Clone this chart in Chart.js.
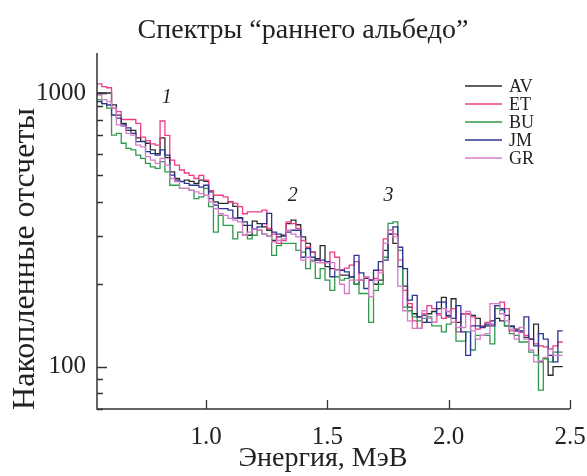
<!DOCTYPE html>
<html>
<head>
<meta charset="utf-8">
<script src="https://cdn.jsdelivr.net/npm/chart.js@4.4.1/dist/chart.umd.min.js"></script>
<style>
  html, body { margin: 0; padding: 0; background: #fff; }
  #wrap { width: 587px; height: 476px; }
</style>
</head>
<body>
<div id="wrap"><canvas id="spectra" width="587" height="476"></canvas></div>
<script>
// ---- data: counts per 0.02 MeV bin, bins from 0.55 to 2.47 MeV
const binStart = 0.55;
const binWidth = 0.02;

const seriesNames = ["AV", "ET", "BU", "JM", "GR"];
const seriesColors = ["#2b2b2b", "#ee3d86", "#2f9a4c", "#2d3592", "#d47cc6"];

const countsAV = [1000, 1000, 1000, 905, 830, 775, 730, 730, 685, 665, 655, 620, 600, 685, 580, 515, 487, 475, 480, 475, 467, 480, 475, 435, 400, 395, 395, 400, 385, 350, 328, 302, 340,
  333, 324, 315, 289, 298, 302, 333, 343, 330, 298, 282, 262, 248, 277, 232, 228, 225, 216, 216, 213, 200, 207, 210, 207, 200, 207, 266, 305, 282, 232, 197, 165, 156, 152,
  145, 156, 159, 163, 179, 152, 177, 145, 156, 156, 154, 150, 140, 141, 147, 150, 147, 141, 140, 137, 134, 128, 126, 143, 104, 107, 93, 100, 100];
const countsET = [1080, 1055, 1045, 880, 855, 800, 800, 800, 775, 690, 670, 652, 645, 790, 700, 568, 545, 523, 510, 500, 487, 500, 480, 440, 423, 423, 417, 400, 395, 384, 362, 368, 368,
  368, 373, 320, 305, 282, 289, 338, 333, 320, 289, 273, 262, 245, 240, 240, 262, 251, 225, 229, 235, 242, 207, 213, 207, 210, 225, 293, 315, 305, 245, 190, 170, 147, 138,
  156, 167, 163, 156, 150, 159, 163, 134, 156, 156, 152, 137, 141, 145, 143, 167, 172, 163, 135, 135, 134, 130, 126, 121, 119, 118, 116, 119, 123];
const countsBU = [943, 915, 880, 702, 712, 655, 627, 620, 593, 577, 553, 537, 530, 561, 515, 460, 460, 448, 448, 441, 411, 417, 448, 384, 310, 357, 328, 328, 293, 310, 302, 293, 302,
  315, 305, 300, 255, 277, 282, 282, 282, 266, 262, 228, 245, 210, 228, 207, 190, 213, 207, 210, 213, 200, 185, 185, 145, 190, 200, 251, 334, 338, 266, 165, 160, 152, 147,
  150, 152, 141, 141, 134, 143, 145, 124, 124, 134, 115, 130, 130, 130, 121, 163, 161, 141, 132, 130, 123, 123, 113, 110, 82, 107, 104, 113, 113];
const countsJM = [930, 915, 904, 831, 810, 764, 745, 712, 664, 664, 610, 600, 593, 620, 593, 501, 480, 474, 467, 460, 460, 453, 460, 411, 389, 378, 378, 373, 349, 349, 338, 328, 318,
  324, 333, 363, 310, 305, 300, 310, 315, 315, 251, 270, 251, 245, 245, 242, 213, 225, 225, 222, 213, 255, 220, 193, 207, 225, 242, 245, 305, 324, 273, 228, 175, 182, 152,
  154, 145, 145, 172, 172, 154, 150, 167, 134, 110, 141, 141, 139, 143, 141, 167, 163, 154, 141, 135, 135, 152, 126, 119, 132, 126, 110, 104, 135];
const countsGR = [983, 945, 930, 880, 764, 755, 712, 702, 645, 635, 585, 568, 553, 577, 545, 487, 474, 448, 448, 441, 435, 429, 423, 400, 378, 362, 357, 348, 343, 338, 302, 310, 318,
  315, 305, 300, 286, 289, 293, 315, 305, 298, 245, 251, 242, 240, 240, 240, 240, 225, 200, 185, 207, 207, 207, 213, 180, 207, 220, 282, 315, 298, 197, 160, 147, 138, 138,
  160, 150, 145, 154, 163, 159, 145, 139, 139, 159, 135, 126, 130, 132, 170, 170, 156, 147, 137, 126, 139, 126, 115, 104, 105, 108, 116, 110, 110];

const xTicks = [1.0, 1.5, 2.0, 2.5];
const yMajor = [100, 1000];
const yMinor = [70, 80, 90, 200, 300, 400, 500, 600, 700, 800, 900];

// peak marks: label, energy, counts
const peakLabels = ["1", "2", "3"];
const peakEnergy = [0.838, 1.357, 1.752];
const peakCounts = [958, 420, 420];

const allCounts = [countsAV, countsET, countsBU, countsJM, countsGR];

function toSteps(counts) {
  const pts = counts.map((c, i) => ({ x: binStart + i * binWidth, y: c }));
  pts.push({ x: binStart + counts.length * binWidth, y: counts[counts.length - 1] });
  return pts;
}

const serif = "'Liberation Serif', 'DejaVu Serif', serif";

// axes, inward ticks, legend, titles, peak numbers
const decorations = {
  id: 'decorations',
  afterDraw(chart) {
    const { ctx, chartArea: a, scales: { x, y } } = chart;
    ctx.save();
    ctx.strokeStyle = '#333';
    ctx.lineWidth = 1.5;
    ctx.beginPath();
    ctx.moveTo(a.left, a.top);
    ctx.lineTo(a.left, a.bottom);
    ctx.lineTo(a.right, a.bottom);
    ctx.stroke();

    ctx.lineWidth = 1.3;
    ctx.beginPath();
    x.ticks.forEach(t => {
      const px = Math.round(x.getPixelForValue(t.value)) + 0.5;
      ctx.moveTo(px, a.bottom);
      ctx.lineTo(px, a.bottom - 9);
    });
    y.ticks.forEach(t => {
      const py = Math.round(y.getPixelForValue(t.value)) + 0.5;
      const len = yMajor.includes(t.value) ? 10 : 6;
      ctx.moveTo(a.left, py);
      ctx.lineTo(a.left + len, py);
    });
    ctx.stroke();

    // legend
    ctx.font = "18px " + serif;
    ctx.textBaseline = 'middle';
    ctx.textAlign = 'left';
    chart.data.datasets.forEach((ds, i) => {
      const ly = 86 + i * 18;
      ctx.strokeStyle = ds.borderColor;
      ctx.lineWidth = 1.4;
      ctx.beginPath();
      ctx.moveTo(465, ly);
      ctx.lineTo(502, ly);
      ctx.stroke();
      ctx.fillStyle = '#222';
      ctx.fillText(ds.label, 509, ly + 1);
    });

    // peak numbers
    ctx.font = "italic 20px " + serif;
    ctx.textAlign = 'center';
    peakLabels.forEach((lab, i) => {
      ctx.fillText(lab, x.getPixelForValue(peakEnergy[i]), y.getPixelForValue(peakCounts[i]));
    });

    // titles
    ctx.fillStyle = '#222';
    ctx.font = "28px " + serif;
    ctx.fillText("Спектры “раннего альбедо”", 303, 31);
    ctx.font = "28px " + serif;
    ctx.fillText("Энергия, МэВ", 323, 459);
    ctx.translate(26, 259);
    ctx.rotate(-Math.PI / 2);
    ctx.font = "32px " + serif;
    ctx.fillText("Накопленные отсчеты", 0, 0);
    ctx.restore();
  }
};

new Chart(document.getElementById('spectra').getContext('2d'), {
  type: 'line',
  data: {
    datasets: seriesNames.map((name, i) => ({
      label: name,
      data: toSteps(allCounts[i]),
      borderColor: seriesColors[i],
      borderWidth: 1.3,
      pointRadius: 0,
      stepped: true,
      fill: false,
      order: seriesNames.length - i
    }))
  },
  options: {
    responsive: false,
    animation: false,
    layout: { padding: { top: 53, right: 17, left: 0, bottom: 0 } },
    plugins: { legend: { display: false }, tooltip: { enabled: false }, title: { display: false } },
    scales: {
      x: {
        type: 'linear',
        min: 0.55,
        max: 2.5,
        afterBuildTicks: s => { s.ticks = xTicks.map(v => ({ value: v })); },
        afterFit: s => { s.height = 67; s.paddingLeft = 0; s.paddingRight = 0; },
        grid: { display: false, drawTicks: false },
        border: { display: false },
        ticks: {
          color: '#222',
          font: { family: serif, size: 25 },
          padding: 13,
          maxRotation: 0,
          autoSkip: false,
          callback: v => Number(v).toFixed(1)
        }
      },
      y: {
        type: 'logarithmic',
        min: 70,
        max: 1400,
        afterBuildTicks: s => { s.ticks = yMinor.concat(yMajor).sort((p, q) => p - q).map(v => ({ value: v })); },
        afterFit: s => { s.width = 97; s.paddingTop = 0; s.paddingBottom = 0; },
        grid: { display: false, drawTicks: false },
        border: { display: false },
        ticks: {
          color: '#222',
          font: { family: serif, size: 25 },
          padding: 11,
          autoSkip: false,
          callback: v => yMajor.includes(v) ? String(v) : ''
        }
      }
    }
  },
  plugins: [decorations]
});
</script>
</body>
</html>
